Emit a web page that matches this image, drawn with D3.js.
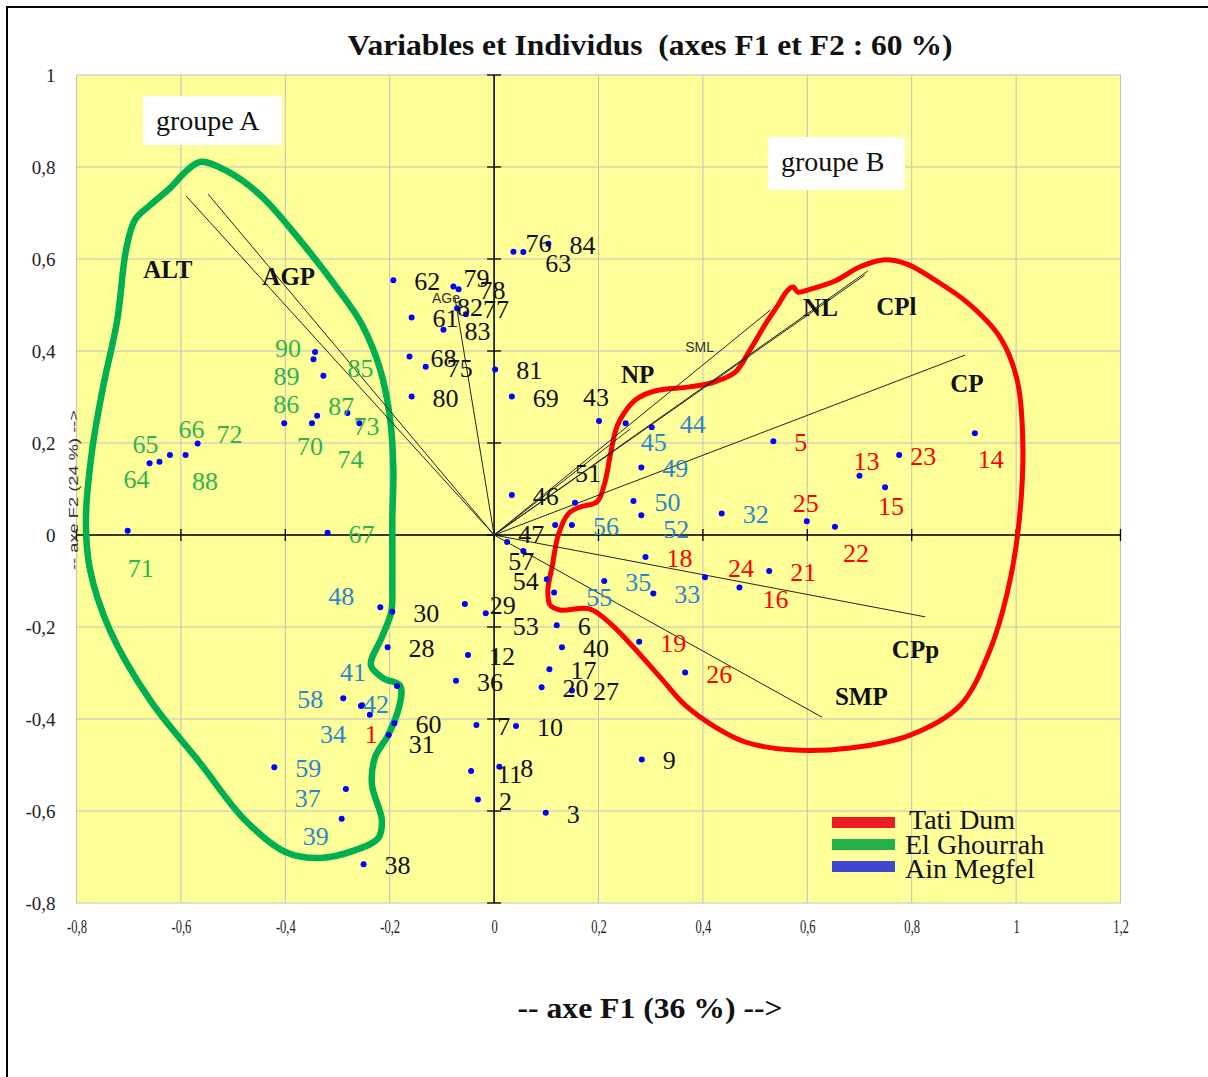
<!DOCTYPE html>
<html>
<head>
<meta charset="utf-8">
<title>Variables et Individus</title>
<script src="https://d3js.org/d3.v7.min.js"></script>
<style>
  body { margin: 0; background: #fff; }
  svg text { font-family: "Liberation Serif", "Times New Roman", serif; }
</style>
</head>
<body>
<div id="chart"></div>
<script>
// individuals: id, score on F1, score on F2, site
var ids = d3.range(1, 91).map(String);
var f1 = [-0.238,-0.031,0.099,0.117,0.535,0.120,-0.034,0.010,0.283,0.042,
          -0.044,-0.050,0.700,0.921,0.749,0.470,0.106,0.290,0.278,0.091,
          0.527,0.653,0.776,0.404,0.599,0.366,0.149,-0.204,-0.056,-0.195,
          -0.202,0.436,0.305,-0.255,0.211,-0.073,-0.284,-0.250,-0.292,0.130,
          -0.186,-0.253,0.201,0.302,0.252,0.034,0.025,-0.218,0.282,0.267,
          0.155,0.282,-0.016,0.101,0.115,0.149,0.056,-0.289,-0.421,-0.191,
          -0.158,-0.193,0.056,-0.660,-0.641,-0.568,-0.319,-0.162,0.034,-0.349,
          -0.702,-0.591,-0.258,-0.281,-0.131,0.037,-0.054,-0.068,-0.078,-0.158,
          0.002,-0.071,-0.097,0.104,-0.327,-0.402,-0.339,-0.621,-0.346,-0.343];
var f2 = [-0.391,-0.575,-0.604,0.022,0.204,-0.196,-0.413,-0.504,-0.488,-0.415,
          -0.513,-0.261,0.129,0.221,0.104,-0.114,-0.292,-0.048,-0.232,-0.331,
          -0.078,0.018,0.174,-0.092,0.030,-0.299,-0.338,-0.244,-0.150,-0.167,
          -0.435,0.047,-0.127,-0.372,-0.100,-0.317,-0.552,-0.716,-0.617,-0.244,
          -0.328,-0.370,0.248,0.234,0.243,0.087,-0.015,-0.157,0.147,0.074,
          0.070,0.043,-0.170,-0.096,-0.125,0.022,-0.035,-0.355,-0.505,-0.409,
          0.473,0.554,0.615,0.156,0.159,0.199,0.005,0.388,0.301,0.243,
          0.009,0.174,0.243,0.265,0.366,0.616,0.480,0.534,0.540,0.301,
          0.360,0.493,0.446,0.633,0.346,0.243,0.259,0.174,0.382,0.398];
// T = Tati Dum, G = El Ghourrah, A = Ain Megfel, N = others
var site = ("TNNNTNNNNN" + "NNTTTTNTTN" + "TTTTTTNNNN" + "NAAAANANAN" +
            "AANAANNAAA" + "NANNAANAAN" + "NNNGGGGNNG" + "GGGGNNNNNN" +
            "NNNNGGGGGG").split("");

// variables (loadings)
var varNames = ["ALT", "AGP", "AGe", "NP", "SML", "NL", "CPl", "CP", "CPp", "SMP"];
var varF1 = [-0.590, -0.548, -0.075, 0.26, 0.529, 0.716, 0.71, 0.902, 0.826, 0.628];
var varF2 = [0.737, 0.741, 0.517, 0.23, 0.489, 0.574, 0.565, 0.391, -0.178, -0.396];

// hull outlines
var greenHullF1 = [-0.563,-0.515,-0.448,-0.372,-0.295,-0.253,-0.218,-0.199,-0.193,-0.195,
                   -0.195,-0.197,-0.215,-0.236,-0.213,-0.180,-0.182,-0.203,-0.228,-0.234,
                   -0.215,-0.222,-0.266,-0.333,-0.400,-0.477,-0.563,-0.659,-0.736,-0.774,
                   -0.782,-0.770,-0.749,-0.722,-0.705,-0.688,-0.659,-0.621,-0.588];
var greenHullF2 = [0.811,0.793,0.739,0.641,0.528,0.457,0.359,0.250,0.141,0.033,
                   -0.098,-0.167,-0.222,-0.283,-0.311,-0.328,-0.374,-0.435,-0.483,-0.543,
                   -0.620,-0.659,-0.685,-0.702,-0.689,-0.620,-0.496,-0.359,-0.207,-0.076,
                   0.033,0.185,0.322,0.467,0.620,0.685,0.717,0.754,0.793];
var redHullF1 = [0.241,0.270,0.308,0.375,0.423,0.462,0.490,0.519,0.544,0.563,
                 0.573,0.582,0.602,0.653,0.701,0.745,0.791,0.845,0.908,0.969,
                 1.002,1.013,1.004,0.983,0.950,0.893,0.797,0.682,0.567,0.481,
                 0.423,0.366,0.318,0.266,0.226,0.184,0.126,0.107,0.103,0.111,
                 0.123,0.142,0.165,0.197,0.211,0.222,0.232];
var redHullF2 = [0.250,0.293,0.313,0.322,0.333,0.354,0.402,0.457,0.500,0.533,
                 0.539,0.528,0.533,0.552,0.583,0.598,0.589,0.554,0.504,0.430,
                 0.337,0.191,0.011,-0.126,-0.250,-0.370,-0.435,-0.463,-0.467,-0.450,
                 -0.417,-0.370,-0.309,-0.243,-0.196,-0.161,-0.163,-0.152,-0.120,-0.070,
                 0.000,0.046,0.061,0.072,0.109,0.170,0.224];

var xTickValues = [-0.8, -0.6, -0.4, -0.2, 0, 0.2, 0.4, 0.6, 0.8, 1, 1.2];
var yTickValues = [-0.8, -0.6, -0.4, -0.2, 0, 0.2, 0.4, 0.6, 0.8, 1];

var legendNames = ["Tati Dum", "El Ghourrah", "Ain Megfel"];

// ---- layout ----
var siteColor = { T: "#ff0000", G: "#2db350", A: "#2b87cc", N: "#111" };
var legendColor = ["#ed1c24", "#22b14c", "#3f48cc"];
// label offsets in px from the point (default right of point)
var labelNudge = {1:[-5,28], 11:[26,12], 13:[-6,-6], 14:[3,35], 15:[-7,28], 16:[23,21],
  22:[8,35], 23:[11,10], 24:[23,0], 25:[-14,-9], 29:[25,10], 31:[20,18], 34:[-41,37],
  37:[-51,18], 39:[-39,26], 41:[-57,-5], 42:[1,8], 43:[-16,-15], 44:[28,6], 45:[15,28],
  47:[11,1], 48:[-52,-2], 51:[0,-21], 52:[22,23], 53:[27,22], 54:[-34,11], 55:[32,13],
  57:[-15,19], 58:[-46,10], 63:[22,20], 64:[-26,25], 65:[-27,-9], 66:[-19,-5], 70:[-15,32],
  71:[0,46], 72:[31,-12], 73:[-6,12], 74:[-10,55], 76:[12,0], 77:[17,4], 79:[10,0],
  82:[0,8], 85:[24,1], 86:[-11,-10], 87:[11,-1], 88:[22,35], 89:[-40,26], 90:[-40,5]};
var hiddenLabels = ["4"];
// where the variable names sit (in axis units)
var varLabelAt = { ALT:[-0.672,0.559], AGP:[-0.444,0.543], AGe:[-0.119,0.504], NP:[0.243,0.330],
  SML:[0.366,0.398], NL:[0.592,0.476], CPl:[0.732,0.478], CP:[0.874,0.311],
  CPp:[0.762,-0.267], SMP:[0.653,-0.370] };
var smallVars = ["AGe", "SML"];

var fr = d3.formatLocale({ decimal: ",", thousands: " ", grouping: [3], currency: ["", ""], minus: "-" });
var fmt = fr.format(",.1~f");

var plotL = 76.5, plotR = 1120.5, plotT = 75, plotB = 903;
var x = d3.scaleLinear().domain([-0.8, 1.2]).range([plotL, plotR]);
var y = d3.scaleLinear().domain([-0.8, 1]).range([plotB, plotT]);

var svg = d3.select("#chart").append("svg")
    .attr("width", 1208).attr("height", 1077);

svg.append("rect").attr("width", 1208).attr("height", 1077).attr("fill", "#fff");
svg.append("rect").attr("x", 7).attr("y", 7).attr("width", 1230).attr("height", 1100)
    .attr("fill", "none").attr("stroke", "#000").attr("stroke-width", 2);

// plot area
svg.append("rect").attr("x", plotL).attr("y", plotT)
    .attr("width", plotR - plotL).attr("height", plotB - plotT)
    .attr("fill", "#ffff99").attr("stroke", "#c0c0c0");

// grid
svg.append("g").selectAll("line").data(xTickValues.slice(1, -1)).enter().append("line")
    .attr("x1", function(d) { return x(d); }).attr("x2", function(d) { return x(d); })
    .attr("y1", plotT).attr("y2", plotB).attr("stroke", "#c0c0c0");
svg.append("g").selectAll("line").data(yTickValues.slice(1, -1)).enter().append("line")
    .attr("y1", function(d) { return y(d); }).attr("y2", function(d) { return y(d); })
    .attr("x1", plotL).attr("x2", plotR).attr("stroke", "#c0c0c0");

// tick labels
var xAxis = svg.append("g").attr("transform", "translate(0," + plotB + ")")
    .call(d3.axisBottom(x).tickValues(xTickValues).tickSize(0).tickPadding(17).tickFormat(fmt));
xAxis.select(".domain").remove();
xAxis.selectAll("text").attr("font-size", 19).attr("fill", "#222")
    .attr("transform", "scale(0.66,1)");

var yAxis = svg.append("g").attr("transform", "translate(" + plotL + ",0)")
    .call(d3.axisLeft(y).tickValues(yTickValues).tickSize(0).tickPadding(21).tickFormat(fmt));
yAxis.select(".domain").remove();
yAxis.selectAll("text").attr("font-size", 19).attr("fill", "#222");

// zero axes with crossing ticks
svg.append("line").attr("x1", plotL).attr("x2", plotR).attr("y1", y(0)).attr("y2", y(0))
    .attr("stroke", "#000").attr("stroke-width", 1.5);
svg.append("line").attr("y1", plotT).attr("y2", plotB).attr("x1", x(0)).attr("x2", x(0))
    .attr("stroke", "#000").attr("stroke-width", 1.5);
svg.append("g").selectAll("line").data(xTickValues).enter().append("line")
    .attr("x1", function(d) { return x(d); }).attr("x2", function(d) { return x(d); })
    .attr("y1", y(0) - 6).attr("y2", y(0) + 6).attr("stroke", "#000").attr("stroke-width", 1.3);
svg.append("g").selectAll("line").data(yTickValues).enter().append("line")
    .attr("y1", function(d) { return y(d); }).attr("y2", function(d) { return y(d); })
    .attr("x1", x(0) - 7).attr("x2", x(0) + 7).attr("stroke", "#000").attr("stroke-width", 1.3);

// hulls
var hullLine = d3.line().x(function(d) { return x(d[0]); }).y(function(d) { return y(d[1]); })
    .curve(d3.curveCatmullRomClosed.alpha(0.5));
svg.append("path").attr("d", hullLine(d3.zip(greenHullF1, greenHullF2)))
    .attr("fill", "none").attr("stroke", "#00b050").attr("stroke-width", 6.5);
svg.append("path").attr("d", hullLine(d3.zip(redHullF1, redHullF2)))
    .attr("fill", "none").attr("stroke", "#ff0000").attr("stroke-width", 5);

// variable vectors
svg.append("g").selectAll("line").data(varNames).enter().append("line")
    .attr("x1", x(0)).attr("y1", y(0))
    .attr("x2", function(d, i) { return x(varF1[i]); })
    .attr("y2", function(d, i) { return y(varF2[i]); })
    .attr("stroke", "#222").attr("stroke-width", 1);
svg.append("g").selectAll("text").data(varNames).enter().append("text")
    .attr("x", function(d) { return x(varLabelAt[d][0]); })
    .attr("y", function(d) { return y(varLabelAt[d][1]); })
    .attr("font-size", function(d) { return smallVars.indexOf(d) >= 0 ? 14 : 25; })
    .attr("font-weight", function(d) { return smallVars.indexOf(d) >= 0 ? "normal" : "bold"; })
    .style("font-family", function(d) { return smallVars.indexOf(d) >= 0 ? "'Liberation Sans', Arial, sans-serif" : null; })
    .attr("fill", function(d) { return smallVars.indexOf(d) >= 0 ? "#333" : "#111"; })
    .text(function(d) { return d; });

// individuals
var pts = ids.map(function(id, i) { return { id: id, f1: f1[i], f2: f2[i], site: site[i] }; });
svg.append("g").selectAll("circle").data(pts).enter().append("circle")
    .attr("cx", function(d) { return x(d.f1); })
    .attr("cy", function(d) { return y(d.f2); })
    .attr("r", 3).attr("fill", "#0000ff");
svg.append("g").selectAll("text").data(pts.filter(function(d) { return hiddenLabels.indexOf(d.id) < 0; }))
    .enter().append("text")
    .attr("x", function(d) { return x(d.f1) + (labelNudge[d.id] ? labelNudge[d.id][0] : 21); })
    .attr("y", function(d) { return y(d.f2) + (labelNudge[d.id] ? labelNudge[d.id][1] : 10); })
    .attr("font-size", 26)
    .attr("fill", function(d) { return siteColor[d.site]; })
    .text(function(d) { return d.id; });

// group boxes
[["groupe A", 143, 96, 139, 49], ["groupe B", 768, 137, 137, 53]].forEach(function(g) {
  svg.append("rect").attr("x", g[1]).attr("y", g[2]).attr("width", g[3]).attr("height", g[4]).attr("fill", "#fff");
  svg.append("text").attr("x", g[1] + 13).attr("y", g[2] + 34).attr("font-size", 28)
      .attr("fill", "#111").text(g[0]);
});

// legend
var legend = svg.append("g").attr("transform", "translate(832,817)");
legend.selectAll("rect").data(legendNames).enter().append("rect")
    .attr("x", 0).attr("y", function(d, i) { return i * 22; })
    .attr("width", 63).attr("height", 11)
    .attr("fill", function(d, i) { return legendColor[i]; });
legend.selectAll("text").data(legendNames).enter().append("text")
    .attr("x", function(d, i) { return i === 0 ? 77 : 73; })
    .attr("y", function(d, i) { return 12 + i * 24.5; })
    .attr("font-size", 28).attr("fill", "#111")
    .text(function(d) { return d; });

// titles
svg.append("text").attr("x", 650).attr("y", 55).attr("text-anchor", "middle")
    .attr("font-size", 30).attr("font-weight", "bold").attr("fill", "#111")
    .attr("textLength", 605).attr("lengthAdjust", "spacingAndGlyphs")
    .style("white-space", "pre")
    .text("Variables et Individus  (axes F1 et F2 : 60 %)");
svg.append("text").attr("x", 650).attr("y", 1018).attr("text-anchor", "middle")
    .attr("font-size", 29).attr("font-weight", "bold").attr("fill", "#111")
    .attr("textLength", 265).attr("lengthAdjust", "spacingAndGlyphs")
    .text("-- axe F1 (36 %) -->");
svg.append("text").attr("transform", "translate(78,490) rotate(-90)").attr("text-anchor", "middle")
    .attr("font-size", 13).style("font-family", "'Liberation Sans', Arial, sans-serif").attr("fill", "#333")
    .attr("textLength", 160).attr("lengthAdjust", "spacingAndGlyphs")
    .text("-- axe F2 (24 %) -->");
</script>
</body>
</html>
